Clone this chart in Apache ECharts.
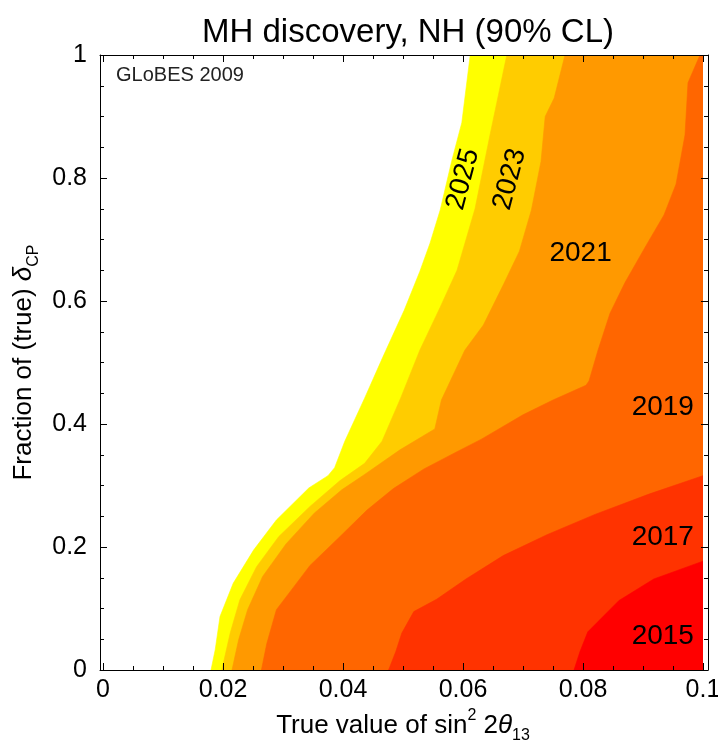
<!DOCTYPE html>
<html>
<head>
<meta charset="utf-8">
<script src="https://cdn.jsdelivr.net/npm/echarts@6/dist/echarts.min.js"></script>
<style>
  html, body { margin: 0; padding: 0; background: #fff; }
  #chart { width: 718px; height: 746px; }
</style>
</head>
<body>
<div id="chart"></div>
<script>
// Discovery contours: each list runs from the bottom edge upward,
// points are [true sin^2 2theta13, fraction of true deltaCP].
const c2025 = [[0.0180,0],[0.0187,0.033],[0.0195,0.087],[0.0217,0.141],[0.0251,0.195],[0.0289,0.244],[0.0343,0.296],[0.0375,0.316],[0.0386,0.329],[0.0403,0.372],[0.0436,0.442],[0.0466,0.508],[0.0502,0.585],[0.0528,0.648],[0.0545,0.694],[0.0562,0.748],[0.0581,0.827],[0.0598,0.890],[0.0612,1]];
const c2023 = [[0.0198,0],[0.0212,0.060],[0.0228,0.114],[0.0256,0.168],[0.0293,0.217],[0.0345,0.266],[0.0395,0.308],[0.0436,0.336],[0.0465,0.372],[0.0496,0.442],[0.0528,0.520],[0.0562,0.590],[0.0590,0.650],[0.0620,0.750],[0.0645,0.870],[0.0673,1]];
const c2021 = [[0.0215,0],[0.0226,0.049],[0.0241,0.098],[0.0266,0.152],[0.0305,0.205],[0.0352,0.255],[0.0398,0.293],[0.0436,0.318],[0.0495,0.358],[0.0553,0.392],[0.0564,0.439],[0.0603,0.520],[0.0634,0.561],[0.0668,0.628],[0.0694,0.681],[0.0714,0.748],[0.0730,0.827],[0.0737,0.900],[0.0752,0.930],[0.0770,1]];
const c2019 = [[0.0264,0],[0.0273,0.043],[0.0289,0.098],[0.0310,0.125],[0.0345,0.170],[0.0395,0.217],[0.0440,0.260],[0.0484,0.295],[0.0535,0.327],[0.0590,0.355],[0.0630,0.375],[0.0700,0.415],[0.0750,0.439],[0.0805,0.463],[0.0810,0.470],[0.0825,0.520],[0.0845,0.580],[0.0870,0.630],[0.0905,0.690],[0.0935,0.740],[0.0955,0.790],[0.0970,0.870],[0.0975,0.955],[0.0995,1]];
const c2017 = [[0.0476,0],[0.0488,0.030],[0.0498,0.060],[0.0518,0.095],[0.0556,0.115],[0.0605,0.148],[0.0667,0.186],[0.0740,0.220],[0.0820,0.253],[0.0910,0.286],[0.1,0.316]];
const c2015 = [[0.0785,0],[0.0795,0.030],[0.0808,0.062],[0.0860,0.113],[0.0918,0.148],[0.1,0.177]];

const years = ['2025', '2023', '2021', '2019', '2017', '2015'];
const contours = [c2025, c2023, c2021, c2019, c2017, c2015];

// Where each year's label sits, in data coordinates, and its tilt in degrees
const labelAnchors = [[0.0600, 0.798, 75], [0.0678, 0.798, 75], [0.0796, 0.678, 0], [0.0933, 0.427, 0], [0.0933, 0.215, 0], [0.0933, 0.055, 0]];

const xTicks = [0, 0.02, 0.04, 0.06, 0.08, 0.1];
const yTicks = [0, 0.2, 0.4, 0.6, 0.8, 1];

const bandColors = ['#ffff00', '#ffcc00', '#ff9900', '#ff6600', '#ff3300', '#ff0000'];
const FONT = "'Liberation Sans', Arial, Helvetica, sans-serif";
const X_MAX = xTicks[xTicks.length - 1];
const Y_MAX = yTicks[yTicks.length - 1];

// Close a contour against the right edge (and the top edge if it reaches it)
function bandPolygon(curve) {
  const last = curve[curve.length - 1];
  const tail = last[1] >= Y_MAX ? [[X_MAX, Y_MAX], [X_MAX, 0]] : [[X_MAX, 0]];
  return curve.concat(tail);
}

function bandSeries(curve, color) {
  const poly = bandPolygon(curve);
  return {
    type: 'custom',
    coordinateSystem: 'cartesian2d',
    xAxisIndex: 0, yAxisIndex: 0,
    silent: true,
    clip: true,
    z: 2,
    data: [poly[0]],
    renderItem: function (params, api) {
      return {
        type: 'polygon',
        shape: { points: poly.map(p => api.coord(p)) },
        style: { fill: color, stroke: color, lineWidth: 0.6 }
      };
    }
  };
}

const labelSeries = {
  type: 'custom',
  coordinateSystem: 'cartesian2d',
  xAxisIndex: 0, yAxisIndex: 0,
  silent: true,
  z: 5,
  data: labelAnchors.map((a, i) => [a[0], a[1], i]),
  renderItem: function (params, api) {
    const i = api.value(2);
    const p = api.coord([api.value(0), api.value(1)]);
    return {
      type: 'text',
      x: p[0], y: p[1],
      rotation: labelAnchors[i][2] * Math.PI / 180,
      style: {
        text: years[i],
        font: '28px ' + FONT,
        fill: '#000',
        align: 'center',
        verticalAlign: 'middle'
      }
    };
  }
};

const fmt = v => String(Math.round(v * 1000) / 1000);

const tickStyle = { show: true, inside: true, length: 7, lineStyle: { color: '#000', width: 1 } };
const minorStyle = { show: true, splitNumber: 4, length: 4, lineStyle: { color: '#000', width: 1 } };
const noLine = { show: false, onZero: false };

// Tick-only axes sharing the data grid
function tickAxis(extra) {
  return Object.assign({
    gridIndex: 0, type: 'value', z: 10,
    axisLine: noLine, axisTick: tickStyle, minorTick: minorStyle,
    splitLine: { show: false }, minorSplitLine: { show: false },
    axisLabel: { show: false }
  }, extra);
}

// Frame axes on the slightly wider outer grid
function frameAxis(position) {
  return {
    gridIndex: 1, type: 'value', position: position, min: 0, max: 1, z: 11,
    axisLine: { show: true, onZero: false, lineStyle: { color: '#000', width: 1 } },
    axisTick: { show: false }, axisLabel: { show: false }, splitLine: { show: false }
  };
}

const nameRich = {
  sup: { fontFamily: FONT, fontSize: 16, lineHeight: 18, verticalAlign: 'top', color: '#000' },
  sub: { fontFamily: FONT, fontSize: 16, lineHeight: 18, verticalAlign: 'bottom', color: '#000' },
  it: { fontFamily: FONT, fontSize: 26, fontStyle: 'italic', lineHeight: 36, color: '#000' }
};

const chart = echarts.init(document.getElementById('chart'), null, { renderer: 'canvas' });
chart.setOption({
  animation: false,
  backgroundColor: '#fff',
  title: {
    text: 'MH discovery, NH (90% CL)',
    left: 403, top: 11,
    textAlign: 'center',
    textStyle: { fontFamily: FONT, fontSize: 33, fontWeight: 'normal', color: '#000' }
  },
  grid: [
    { left: 103, right: 15, top: 55, bottom: 76, show: false, containLabel: false, outerBoundsMode: 'none' },
    { left: 100, right: 10, top: 55, bottom: 76, show: false, containLabel: false, outerBoundsMode: 'none' }
  ],
  xAxis: [
    tickAxis({
      position: 'bottom', min: 0, max: X_MAX, interval: 0.02,
      axisLabel: { show: true, color: '#000', fontFamily: FONT, fontSize: 25, margin: 8, formatter: fmt },
      name: 'True value of sin{sup|2} 2{it|θ}{sub|13}',
      nameLocation: 'middle', nameGap: 36,
      nameTextStyle: { color: '#000', fontFamily: FONT, fontSize: 26, lineHeight: 36, rich: nameRich }
    }),
    tickAxis({ position: 'top', min: 0, max: X_MAX, interval: 0.02 }),
    frameAxis('bottom'),
    frameAxis('top')
  ],
  yAxis: [
    tickAxis({
      position: 'left', offset: 3, min: 0, max: Y_MAX, interval: 0.2,
      axisLabel: { show: true, color: '#000', fontFamily: FONT, fontSize: 25, margin: 13, formatter: fmt },
      name: 'Fraction of (true) {it|δ}{sub|CP}',
      nameLocation: 'middle', nameGap: 54,
      nameTextStyle: { color: '#000', fontFamily: FONT, fontSize: 26, lineHeight: 36, rich: nameRich }
    }),
    tickAxis({ position: 'right', offset: 5, min: 0, max: Y_MAX, interval: 0.2 }),
    frameAxis('left'),
    frameAxis('right')
  ],
  graphic: [
    {
      type: 'text', left: 116, top: 65, z: 20,
      style: { text: 'GLoBES 2009', font: '20px ' + FONT, fill: '#222' }
    }
  ],
  series: contours.map((c, i) => bandSeries(c, bandColors[i])).concat([labelSeries])
});
</script>
</body>
</html>
